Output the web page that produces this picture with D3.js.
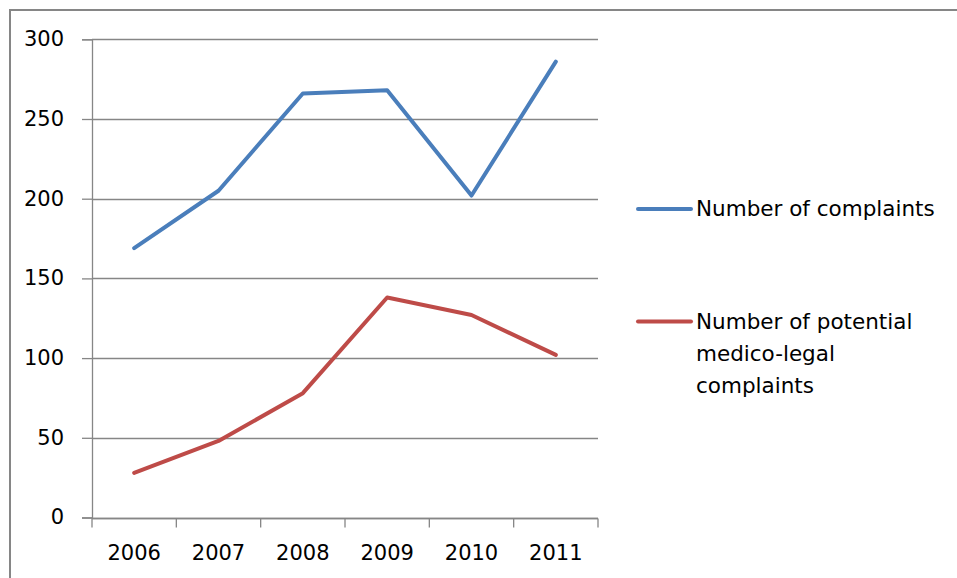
<!DOCTYPE html>
<html>
<head>
<meta charset="utf-8">
<script src="https://cdn.jsdelivr.net/npm/d3@7"></script>
<style>
  html, body { margin: 0; padding: 0; background: #fff; }
  svg { display: block; }
  text { font-family: "DejaVu Sans", sans-serif; fill: #000; }
</style>
</head>
<body>
<svg id="chart" width="957" height="578"></svg>
<script>
// Yearly complaint counts
const years = ["2006", "2007", "2008", "2009", "2010", "2011"];
const complaints = [169, 205, 266, 268, 202, 286];
const medicoLegal = [28, 48, 78, 138, 127, 102];
const yTicks = [0, 50, 100, 150, 200, 250, 300];
const seriesNames = ["Number of complaints", "Number of potential medico-legal complaints"];
const legendLines = [["Number of complaints"], ["Number of potential", "medico-legal", "complaints"]];
const seriesColors = ["#4A7EBB", "#BE4B48"];

const svg = d3.select("#chart");
const gridColor = "#868686";
const fontFamily = "'DejaVu Sans', sans-serif";
const axisFontSize = 21;
const legendFontSize = 21.5;

// Outer frame (top and left edges visible)
svg.append("path")
  .attr("d", "M10,578 L10,10 L957,10")
  .attr("fill", "none")
  .attr("stroke", gridColor)
  .attr("stroke-width", 2);

const plot = { left: 92, right: 598, top: 39.3, bottom: 517.5 };

const x = d3.scaleBand().domain(years).range([plot.left, plot.right]);
const y = d3.scaleLinear().domain([0, 300]).range([plot.bottom, plot.top]);

// Horizontal gridlines
svg.append("g")
  .selectAll("line")
  .data(yTicks)
  .join("line")
  .attr("x1", plot.left)
  .attr("x2", plot.right)
  .attr("y1", d => Math.round(y(d)) + 0.5)
  .attr("y2", d => Math.round(y(d)) + 0.5)
  .attr("stroke", gridColor)
  .attr("stroke-width", 1.3);

// Y axis
const yAxis = svg.append("g")
  .attr("transform", `translate(${plot.left},0)`)
  .call(d3.axisLeft(y).tickValues(yTicks).tickSize(10).tickPadding(18));
yAxis.select(".domain").attr("stroke", gridColor).attr("stroke-width", 1.3);
yAxis.selectAll(".tick line").attr("stroke", gridColor).attr("stroke-width", 1.3);
yAxis.selectAll(".tick text")
  .attr("font-size", axisFontSize)
  .attr("font-family", fontFamily)
  .attr("dy", "0.3em")
  .attr("fill", "#000");

// X axis with ticks at band edges
const xAxisG = svg.append("g").attr("transform", `translate(0,${Math.round(plot.bottom) + 0.5})`);
xAxisG.append("line")
  .attr("x1", plot.left).attr("x2", plot.right)
  .attr("stroke", gridColor).attr("stroke-width", 1.3);
const edges = years.map(d => x(d)).concat([x(years[years.length - 1]) + x.bandwidth()]);
xAxisG.selectAll("line.edge")
  .data(edges)
  .join("line")
  .attr("class", "edge")
  .attr("x1", d => d).attr("x2", d => d)
  .attr("y1", 0).attr("y2", 9)
  .attr("stroke", gridColor).attr("stroke-width", 1.3);
xAxisG.selectAll("text")
  .data(years)
  .join("text")
  .attr("x", d => x(d) + x.bandwidth() / 2)
  .attr("y", 41)
  .attr("text-anchor", "middle")
  .attr("font-size", axisFontSize)
  .text(d => d);

// Series lines
const line = d3.line()
  .x((d, i) => x(years[i]) + x.bandwidth() / 2)
  .y(d => y(d));

[complaints, medicoLegal].forEach((vals, i) => {
  svg.append("path")
    .datum(vals)
    .attr("d", line)
    .attr("fill", "none")
    .attr("stroke", seriesColors[i])
    .attr("stroke-width", 4)
    .attr("stroke-linejoin", "round")
    .attr("stroke-linecap", "round");
});

// Legend
const legendY = [209, 321.5];
const legend = svg.append("g");
seriesNames.forEach((name, i) => {
  legend.append("line")
    .attr("x1", 638).attr("x2", 691)
    .attr("y1", legendY[i]).attr("y2", legendY[i])
    .attr("stroke", seriesColors[i])
    .attr("stroke-width", 4)
    .attr("stroke-linecap", "round");
  const t = legend.append("text")
    .attr("x", 696)
    .attr("y", legendY[i] + 7)
    .attr("font-size", legendFontSize);
  legendLines[i].forEach((ln, j) => {
    t.append("tspan")
      .attr("x", 696)
      .attr("dy", j === 0 ? 0 : 32)
      .text(ln);
  });
});
</script>
</body>
</html>
